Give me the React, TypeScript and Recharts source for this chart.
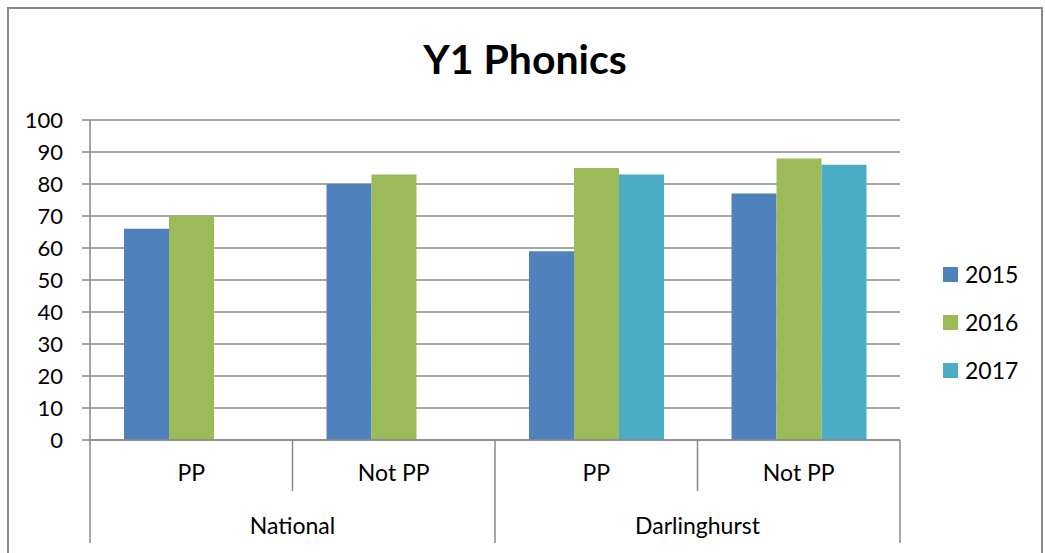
import React from 'react';
import { BarChart, Bar, XAxis, YAxis, CartesianGrid, Legend } from 'recharts';

const categories = ['PP', 'Not PP', 'PP', 'Not PP'];
const groups = ['National', 'National', 'Darlinghurst', 'Darlinghurst'];
const series2015 = [66, 80, 59, 77];
const series2016 = [70, 83, 85, 88];
const series2017 = [null, null, 83, 86];
const yTicks = [0, 10, 20, 30, 40, 50, 60, 70, 80, 90, 100];

const seriesKeys = ['2015', '2016', '2017'];
const colors = ['#4F81BD', '#9BBB59', '#4BACC6'];

const data = categories.map((c, i) => ({
  cat: c,
  group: groups[i],
  '2015': series2015[i],
  '2016': series2016[i],
  '2017': series2017[i],
}));

const W = 1045;
const H = 553;
const M = { top: 120, right: 145, left: 0, bottom: 0 };
const Y_W = 90;
const X_H = 113;
const BAND = (W - M.right - Y_W) / categories.length;
const FONT = 'Lato, "Liberation Sans", sans-serif';
const GRAY = '#888888';

function CatTick(props: any) {
  const { x, y, payload } = props;
  const i = payload.index;
  const left = x - BAND / 2;
  const right = x + BAND / 2;
  const groupStart = i === 0 || groups[i - 1] !== groups[i];
  const isLast = i === categories.length - 1;
  return (
    <g>
      <line x1={left} x2={left} y1={y} y2={y + (groupStart ? 103 : 51)} stroke={GRAY} strokeWidth={1.5} />
      {isLast && <line x1={right} x2={right} y1={y} y2={y + 103} stroke={GRAY} strokeWidth={1.5} />}
      <text x={x} y={y + 41} textAnchor="middle" fontSize={23} fill="#000" fontFamily={FONT}>
        {payload.value}
      </text>
      {groupStart && (
        <text x={right} y={y + 94} textAnchor="middle" fontSize={23} fill="#000" fontFamily={FONT}>
          {groups[i]}
        </text>
      )}
    </g>
  );
}

function LegendBox() {
  return (
    <div style={{ fontFamily: FONT, fontSize: 23 }}>
      {seriesKeys.map((k, i) => (
        <div key={k} style={{ display: 'flex', alignItems: 'center', height: 48 }}>
          <span style={{ width: 15, height: 15, background: colors[i], display: 'inline-block', marginRight: 7 }} />
          <span>{k}</span>
        </div>
      ))}
    </div>
  );
}

export default function App() {
  return (
    <div style={{ position: 'absolute', left: 0, top: 0, width: W, height: H, background: '#fff', overflow: 'hidden' }}>
      <div
        style={{
          position: 'absolute',
          left: 7,
          top: 7,
          width: 1036,
          height: 600,
          border: `2px solid ${GRAY}`,
          boxSizing: 'border-box',
        }}
      />
      <div
        style={{
          position: 'absolute',
          left: 0,
          top: 34,
          width: 1050,
          textAlign: 'center',
          fontFamily: FONT,
          fontWeight: 'bold',
          fontSize: 41,
          lineHeight: '50px',
          color: '#000',
        }}
      >
        Y1 Phonics
      </div>
      <div style={{ position: 'absolute', left: 0, top: 0 }}>
        <BarChart width={W} height={H} data={data} margin={M} barCategoryGap={34} barGap={0}>
          <CartesianGrid vertical={false} stroke={GRAY} strokeWidth={1.5} />
          <XAxis
            dataKey="cat"
            height={X_H}
            axisLine={{ stroke: GRAY, strokeWidth: 1.5 }}
            tickLine={false}
            tickSize={0}
            tickMargin={0}
            interval={0}
            tick={<CatTick />}
          />
          <YAxis
            width={Y_W}
            domain={[0, 100]}
            ticks={yTicks}
            axisLine={{ stroke: GRAY, strokeWidth: 1.5 }}
            tickLine={{ stroke: GRAY, strokeWidth: 1.5 }}
            tickSize={8}
            tickMargin={19}
            tick={{ fontSize: 22, fill: '#000', fontFamily: FONT }}
          />
          <Legend
            layout="vertical"
            verticalAlign="middle"
            align="center"
            wrapperStyle={{ left: 943, top: 250, width: 100 }}
            content={<LegendBox />}
          />
          {seriesKeys.map((k, i) => (
            <Bar key={k} dataKey={k} fill={colors[i]} isAnimationActive={false} />
          ))}
        </BarChart>
      </div>
    </div>
  );
}
